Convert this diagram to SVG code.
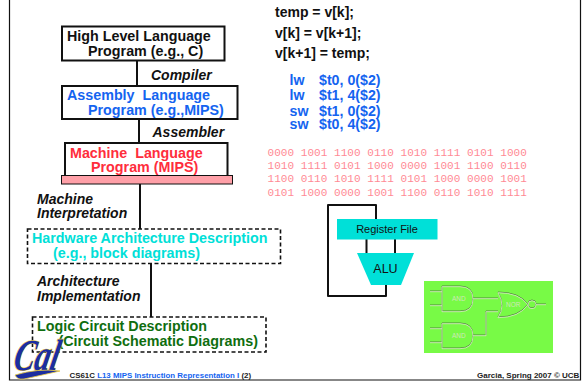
<svg xmlns="http://www.w3.org/2000/svg" width="582" height="381" viewBox="0 0 582 381">
<style>
text{font-family:"Liberation Sans",Arial,sans-serif;font-weight:bold}
.n{font-size:14.3px}
.l{font-size:14px;font-style:italic;fill:#111}
.c{font-size:14px;fill:#111}
.a{font-size:14.2px;fill:#1464f0}
.b{font-family:"Liberation Mono",monospace;font-weight:normal;font-size:11px;fill:#ff8a94;letter-spacing:.05px}
.box{fill:#fff;stroke:#111;stroke-width:2}
.dash{fill:#fff;stroke:#111;stroke-width:1.6;stroke-dasharray:4 2.500}
.w{fill:none;stroke:#111;stroke-width:2;stroke-linejoin:round}
.g{fill:none;stroke:#dcecc8;stroke-width:.8}
.gk{fill:none;stroke:#4a6a40;stroke-width:.8}
.gt{font-weight:normal;font-size:6.500px;fill:#cfe8b8}
.cal{font-family:"Liberation Serif",serif;font-size:44px;font-style:italic;font-weight:bold;fill:#1c2ea0;stroke:#f0d040;stroke-width:1.2;paint-order:stroke}
</style>
<defs>
<g id="gate-shapes">
<path d="M430 291H442M430 305H442M430 328H442M430 342H442M536 304H546"/>
<path d="M473 298H498M473 335H486V311H498"/>
<path d="M442 286H460Q473 286 473 298.500Q473 311 460 311H442ZM442 323H460Q473 323 473 335.500Q473 348 460 348H442ZM498 292Q519 292 528 304Q519 317 498 317Q506 305 498 292Z"/>
<circle cx="532" cy="304" r="4"/>
</g>
</defs>
<rect width="582" height="381" fill="#fff"/>
<g id="frame"><path d="M9.500 0V380H580.500V0" fill="none" stroke="#111" stroke-width="1.200"/></g>
<g id="connectors">
<path class="w" d="M137 61V86M139 120V144M140 184V229M151 264V317"/>
<path class="w" d="M376 219V205H328V296H386V285M366.500 239V253M395 239V253"/>
</g>
<g id="high-level"><rect class="box" x="62" y="26.500" width="162.500" height="34"/>
<text class="n" x="67" y="41" fill="#111">High Level Language</text><text class="n" x="88" y="55.500" fill="#111">Program (e.g., C)</text></g>
<text class="l" x="151" y="80">Compiler</text>
<g id="assembly"><rect class="box" x="62" y="86" width="175.500" height="33"/>
<text class="n" x="67" y="100" fill="#1464f0" xml:space="preserve">Assembly  Language</text><text class="n" x="88" y="115" fill="#1464f0">Program (e.g.,MIPS)</text></g>
<text class="l" x="152.500" y="137">Assembler</text>
<g id="machine"><rect class="box" x="65" y="143" width="162.500" height="34"/>
<rect x="61.500" y="175.500" width="171" height="8.500" fill="#ffa0a8" stroke="#111" stroke-width="1"/>
<text class="n" x="70" y="158" fill="#ff2d3c" xml:space="preserve">Machine  Language</text><text class="n" x="91" y="172" fill="#ff2d3c">Program (MIPS)</text></g>
<text class="l" x="37" y="204">Machine</text><text class="l" x="37" y="218">Interpretation</text>
<g id="hardware"><rect class="dash" x="27.500" y="229" width="253" height="34.500"/>
<text class="n" x="32" y="243" fill="#00e0d8">Hardware Architecture Description</text><text class="n" x="53" y="258" fill="#00e0d8">(e.g., block diagrams)</text></g>
<text class="l" x="37" y="286">Architecture</text><text class="l" x="37" y="301">Implementation</text>
<g id="logic"><rect class="dash" x="32.500" y="317" width="233.500" height="35"/>
<text class="n" x="37" y="331" fill="#0f6e0f">Logic Circuit Description</text><text class="n" x="58.500" y="346" fill="#0f6e0f">(Circuit Schematic Diagrams)</text></g>
<g id="cal-logo"><text class="cal" transform="translate(12 370) skewX(-12)" x="0" y="0" textLength="45" lengthAdjust="spacingAndGlyphs">Cal</text>
<path d="M15 375Q38 368 60 371Q38 376 24 379Q17 380 15 375Z" fill="#1c2ea0" stroke="#f0d040" stroke-width=".8"/></g>
<g id="footer"><text x="69.500" y="378" font-size="7.900" fill="#222">CS61C <tspan fill="#1464f0">L13 MIPS Instruction Representation I</tspan> (2)</text>
<text x="477" y="378" font-size="8" fill="#222">Garcia, Spring 2007 © UCB</text></g>
<g id="code"><text class="c" x="275" y="17">temp = v[k];</text><text class="c" x="275" y="37.500">v[k] = v[k+1];</text><text class="c" x="275" y="58">v[k+1] = temp;</text></g>
<g id="asm"><text class="a" x="289.500" y="85">lw</text><text class="a" x="319" y="85">$t0, 0($2)</text>
<text class="a" x="289.500" y="100">lw</text><text class="a" x="319" y="100">$t1, 4($2)</text>
<text class="a" x="289.500" y="116">sw</text><text class="a" x="319" y="116">$t1, 0($2)</text>
<text class="a" x="289.500" y="129">sw</text><text class="a" x="319" y="129">$t0, 4($2)</text></g>
<g id="binary"><text class="b" x="267.500" y="156">0000 1001 1100 0110 1010 1111 0101 1000</text><text class="b" x="267.500" y="169">1010 1111 0101 1000 0000 1001 1100 0110</text><text class="b" x="267.500" y="182">1100 0110 1010 1111 0101 1000 0000 1001</text><text class="b" x="267.500" y="196">0101 1000 0000 1001 1100 0110 1010 1111</text></g>
<g id="register-file"><rect x="337" y="219" width="100.500" height="20.500" fill="#00e0d8"/><text x="387" y="233" text-anchor="middle" font-size="11" style="font-weight:normal" fill="#111">Register File</text></g>
<g id="alu"><path d="M357 253H414L401 285H371Z" fill="#00e0d8"/><text x="385.500" y="273" text-anchor="middle" font-size="12.500" style="font-weight:normal" fill="#111">ALU</text></g>
<g id="logic-gates"><rect x="424" y="281" width="129" height="72" fill="#78fa46"/>
<use href="#gate-shapes" class="gk"/>
<use href="#gate-shapes" class="g" y=".7"/>
<text class="gt" x="452" y="300.500">AND</text><text class="gt" x="452" y="337.500">AND</text><text class="gt" x="506" y="306.500">NOR</text></g>
</svg>
